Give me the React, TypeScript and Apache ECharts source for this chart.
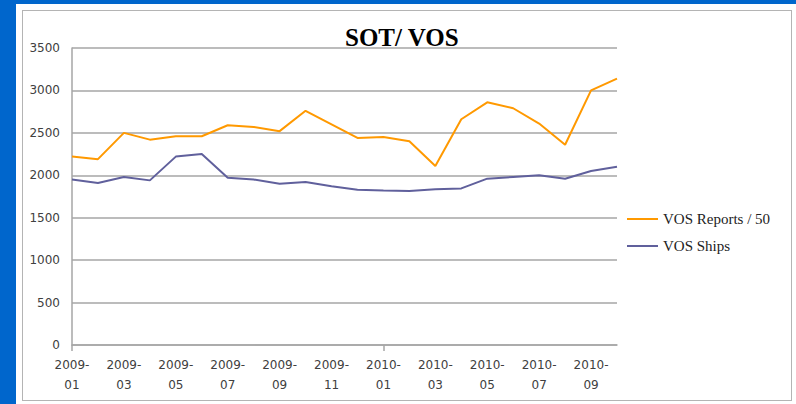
import React, { useEffect, useRef } from "react";
import * as echarts from "echarts";

const months = [
  "2009-01", "2009-02", "2009-03", "2009-04", "2009-05", "2009-06",
  "2009-07", "2009-08", "2009-09", "2009-10", "2009-11", "2009-12",
  "2010-01", "2010-02", "2010-03", "2010-04", "2010-05", "2010-06",
  "2010-07", "2010-08", "2010-09", "2010-10",
];

const vosReports50 = [
  2220, 2190, 2500, 2420, 2460, 2460, 2590, 2570, 2520, 2760, 2600, 2440,
  2450, 2400, 2110, 2660, 2860, 2790, 2610, 2360, 3000, 3140,
];

const vosShips = [
  1950, 1910, 1980, 1940, 2220, 2250, 1970, 1950, 1900, 1920, 1870, 1830,
  1820, 1815, 1835, 1845, 1960, 1980, 2000, 1960, 2050, 2100,
];

const seriesNames = ["VOS Reports / 50", "VOS Ships"];
const titleText = "SOT/ VOS";

export default function App() {
  const ref = useRef<HTMLDivElement>(null);

  useEffect(() => {
    if (!ref.current) return;
    const chart = echarts.init(ref.current, undefined, { renderer: "svg" });
    chart.setOption({
      animation: false,
      title: {
        text: titleText,
        left: 340,
        top: 20,
        textStyle: {
          fontFamily: "Liberation Serif",
          fontWeight: "bold",
          fontSize: 25,
          color: "#000",
        },
      },
      legend: {
        orient: "vertical",
        left: 627,
        top: 211,
        padding: 0,
        itemWidth: 31,
        itemHeight: 2,
        itemGap: 11,
        icon: "rect",
        textStyle: {
          fontFamily: "Liberation Serif",
          fontSize: 15,
          lineHeight: 16,
          color: "#222",
        },
        data: seriesNames,
      },
      grid: { left: 72, top: 48, right: 179, bottom: 59 },
      xAxis: {
        type: "category",
        data: months,
        boundaryGap: false,
        axisLine: { lineStyle: { color: "#A6A6A6", width: 1.5 } },
        axisTick: {
          show: true,
          interval: (i: number) => i === 0 || i === 12,
          length: 6,
          lineStyle: { color: "#A6A6A6", width: 1.5 },
        },
        axisLabel: {
          interval: 1,
          fontFamily: "DejaVu Sans",
          fontSize: 12,
          color: "#404040",
          lineHeight: 20,
          margin: 10,
          formatter: (v: string) => v.replace("-", "-\n"),
        },
        splitLine: { show: false },
      },
      yAxis: {
        type: "value",
        min: 0,
        max: 3500,
        interval: 500,
        axisLine: { show: true, lineStyle: { color: "#A6A6A6", width: 1.5 } },
        axisTick: { show: false },
        axisLabel: {
          fontFamily: "DejaVu Sans",
          fontSize: 12,
          color: "#404040",
          margin: 12,
          formatter: (v: number) => String(v),
        },
        splitLine: { lineStyle: { color: "#A6A6A6", width: 1.5 } },
      },
      series: [
        {
          name: seriesNames[0],
          type: "line",
          data: vosReports50,
          symbol: "none",
          lineStyle: { color: "#FF9900", width: 2 },
          itemStyle: { color: "#FF9900" },
        },
        {
          name: seriesNames[1],
          type: "line",
          data: vosShips,
          symbol: "none",
          lineStyle: { color: "#60609C", width: 2 },
          itemStyle: { color: "#60609C" },
        },
      ],
    });
    return () => chart.dispose();
  }, []);

  return (
    <div
      style={{
        position: "fixed",
        left: 0,
        top: 0,
        width: 796,
        height: 404,
        background: "#0066CC",
        overflow: "hidden",
      }}
    >
      <div
        style={{
          position: "absolute",
          left: 16,
          top: 4,
          width: 780,
          height: 400,
          background: "#FFFFFF",
        }}
      />
      <div
        style={{
          position: "absolute",
          left: 22,
          top: 10,
          width: 770,
          height: 391,
          border: "1px solid #B4B4B4",
          boxSizing: "border-box",
        }}
      />
      <div
        ref={ref}
        style={{ position: "absolute", left: 0, top: 0, width: 796, height: 404 }}
      />
    </div>
  );
}
